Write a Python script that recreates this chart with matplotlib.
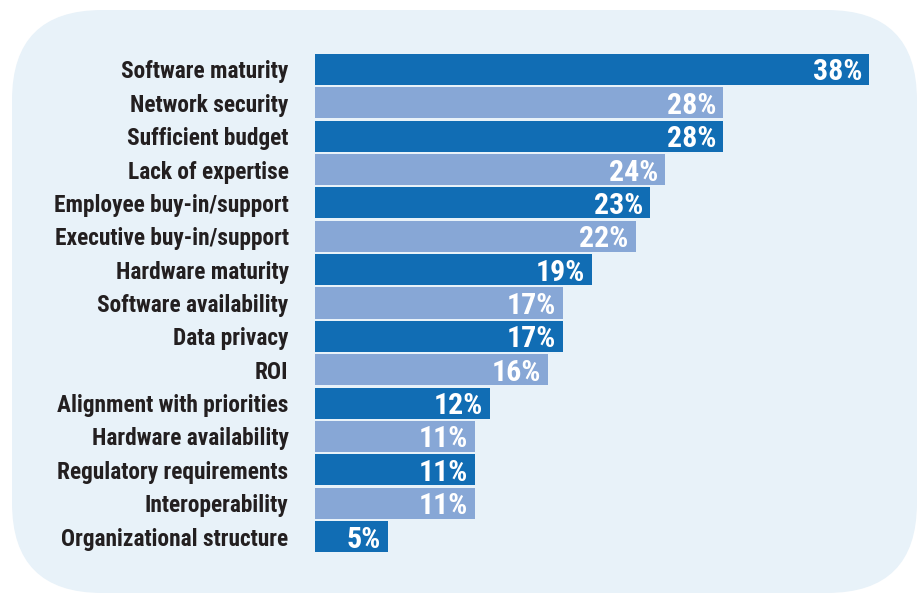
import matplotlib
matplotlib.use("Agg")
import matplotlib.pyplot as plt
from matplotlib.patches import FancyBboxPatch
from matplotlib import font_manager

categories = ["Software maturity", "Network security", "Sufficient budget",
              "Lack of expertise", "Employee buy-in/support", "Executive buy-in/support",
              "Hardware maturity", "Software availability", "Data privacy", "ROI",
              "Alignment with priorities", "Hardware availability",
              "Regulatory requirements", "Interoperability", "Organizational structure"]
values = [38, 28, 28, 24, 23, 22, 19, 17, 17, 16, 12, 11, 11, 11, 5]
value_labels = [f"{v}%" for v in values]

DARK = "#116db4"
LIGHT = "#87a7d6"
BG = "#e8f2f9"
TEXT = "#231f20"

names = {f.name for f in font_manager.fontManager.ttflist}
fams = [f for f in ["Roboto Condensed", "Archivo Narrow", "PT Sans Narrow", "Liberation Sans"] if f in names]
plt.rcParams["font.family"] = fams + ["DejaVu Sans"]

W, H = 919, 595
fig = plt.figure(figsize=(W / 100, H / 100), dpi=100)
fig.patch.set_facecolor("white")

# background rounded panel in pixel coords
bg = fig.add_axes([0, 0, 1, 1])
bg.set_xlim(0, W)
bg.set_ylim(H, 0)
bg.axis("off")
bg.add_patch(FancyBboxPatch((12, 10), 905, 583,
                            boxstyle="round,pad=0,rounding_size=90",
                            facecolor=BG, edgecolor="none"))

# bar axes
x0, x1 = 315, 869
ytop, ybot = 52.8, 553.2
ax = fig.add_axes([x0 / W, 1 - ybot / H, (x1 - x0) / W, (ybot - ytop) / H])
ax.patch.set_alpha(0)
n = len(categories)
ypos = list(range(n))
colors = [DARK if i % 2 == 0 else LIGHT for i in range(n)]
ax.barh(ypos, values, height=0.93, color=colors, edgecolor="none")
ax.set_xlim(0, 38)
ax.set_ylim(n - 0.5, -0.5)
for s in ax.spines.values():
    s.set_visible(False)
ax.set_xticks([])
ax.set_yticks(ypos)
ax.set_yticklabels(categories, fontsize=16.8, fontweight="bold", color=TEXT)
ax.tick_params(axis="y", length=0, pad=19)
for y, v, lab in zip(ypos, values, value_labels):
    ax.annotate(lab, xy=(v, y), xytext=(-5, 0), textcoords="offset points",
                ha="right", va="center_baseline", color="white", fontsize=21.5,
                fontweight="bold")

fig.savefig("out.png", dpi=100, facecolor="white")
